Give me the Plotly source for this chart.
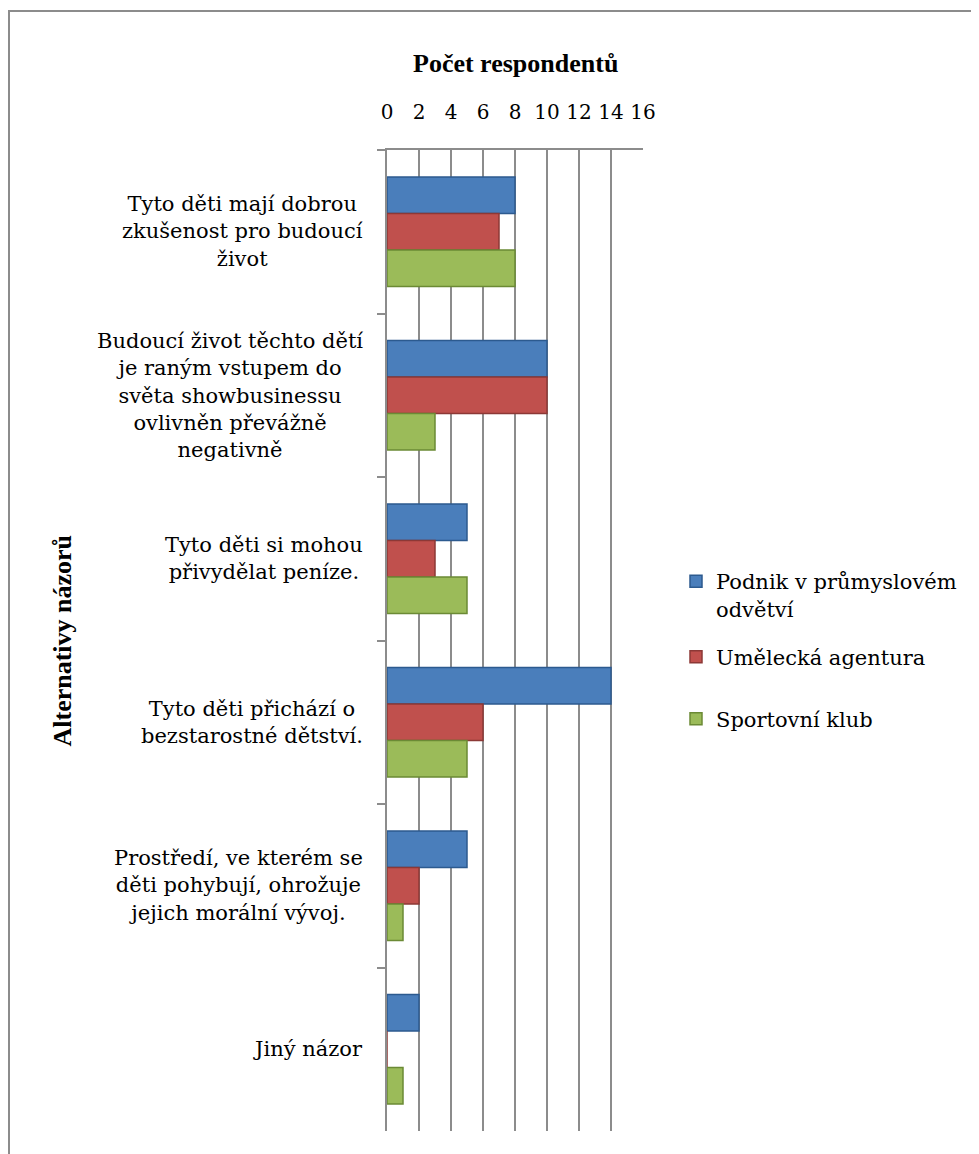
'''
Grouped horizontal bar chart: opinions on child showbusiness by respondent type
'''

import plotly.graph_objects as go

CATEGORIES = [
    'Tyto děti mají dobrou<br>zkušenost pro budoucí<br>život',
    'Budoucí život těchto dětí<br>je raným vstupem do<br>světa showbusinessu<br>ovlivněn převážně<br>negativně',
    'Tyto děti si mohou<br>přivydělat peníze.',
    'Tyto děti přichází o<br>bezstarostné dětství.',
    'Prostředí, ve kterém se<br>děti pohybují, ohrožuje<br>jejich morální vývoj.',
    'Jiný názor',
]
SERIES = ['Podnik v průmyslovém<br>odvětví', 'Umělecká agentura', 'Sportovní klub']
PODNIK = [8, 10, 5, 14, 5, 2]
AGENTURA = [7, 10, 3, 6, 2, 0]
KLUB = [8, 3, 5, 5, 1, 1]
X_TICKS = [0, 2, 4, 6, 8, 10, 12, 14, 16]

FILL = ['#4a7ebb', '#c0504d', '#9bbb59']
EDGE = ['#2c5a8f', '#8c3836', '#6b8a35']
FONT = 'DejaVu Serif'          # regular serif that is available
BOLD_FONT = 'Times New Roman'  # bold weight resolves to Liberation Serif Bold

# page body has an 8px margin, so work in screen pixels and shift
OFF = 8
W, H = 979 - OFF, 1154 - OFF
PL, PR, PT, PB = 387 - OFF, 643 - OFF, 150 - OFF, 1131 - OFF


def px_x(px):
    return (px - OFF - PL) / (PR - PL)


def px_y(py):
    return (PB - (py - OFF)) / (PB - PT)


LEGEND_IDS = ['legend', 'legend2', 'legend3']
LEGEND_Y = [595, 657, 719]

fig = go.Figure()
for name, vals, fill, edge, lid in zip(SERIES, [PODNIK, AGENTURA, KLUB], FILL, EDGE, LEGEND_IDS):
    fig.add_trace(go.Bar(
        y=CATEGORIES, x=vals, name=name, orientation='h',
        marker=dict(color=fill, line=dict(color=edge, width=1.5)),
        legend=lid,
    ))

for cat in CATEGORIES:
    fig.add_annotation(
        x=0, xref='paper', y=cat, yref='y', text=cat, showarrow=False,
        xanchor='right', xshift=-22, align='center',
        font=dict(family=FONT, size=21, color='#000000'),
    )

fig.add_annotation(
    x=0.5, xref='paper', y=px_y(63), yref='paper', text='<b>Počet respondentů</b>',
    showarrow=False, xanchor='center', yanchor='middle',
    font=dict(family=BOLD_FONT, size=26, color='#000000'),
)
fig.add_annotation(
    x=px_x(62), xref='paper', y=0.5, yref='paper', text='<b>Alternativy názorů</b>',
    showarrow=False, textangle=-90, xanchor='center', yanchor='middle',
    font=dict(family=BOLD_FONT, size=26, color='#000000'),
)

# outer chart frame
fig.add_shape(
    type='rect', xref='paper', yref='paper',
    x0=px_x(9), x1=px_x(990), y0=px_y(1170), y1=px_y(11),
    line=dict(color='#8c8c8c', width=2), fillcolor='rgba(0,0,0,0)', layer='below',
)

legend_style = dict(
    x=px_x(676), xanchor='left', yanchor='middle', valign='top',
    font=dict(family=FONT, size=21, color='#000000'),
    itemwidth=30, bgcolor='rgba(0,0,0,0)',
)
fig.update_layout(
    width=W, height=H,
    margin=dict(l=PL, r=W - PR, t=PT, b=H - PB),
    paper_bgcolor='#ffffff', plot_bgcolor='#ffffff',
    barmode='group', bargap=0.33, bargroupgap=0,
    font=dict(family=FONT, size=21, color='#000000'),
    showlegend=True,
    legend=dict(y=px_y(LEGEND_Y[0]), **legend_style),
    legend2=dict(y=px_y(LEGEND_Y[1]), **legend_style),
    legend3=dict(y=px_y(LEGEND_Y[2]), **legend_style),
)
fig.update_xaxes(
    side='top', range=[0, 16], tickvals=X_TICKS, ticktext=[str(v) for v in X_TICKS],
    showgrid=True, gridcolor='#8c8c8c', gridwidth=1.5,
    showline=True, linecolor='#8c8c8c', linewidth=1.5,
    ticks='', ticklabelstandoff=21, zeroline=False,
    tickfont=dict(family=FONT, size=20, color='#000000'),
)
fig.update_yaxes(
    autorange='reversed', showticklabels=False, showgrid=False,
    showline=True, linecolor='#8c8c8c', linewidth=1.5,
    ticks='outside', tickson='boundaries', ticklen=8, tickcolor='#8c8c8c', tickwidth=1.5,
)

fig.write_html('out.html')
